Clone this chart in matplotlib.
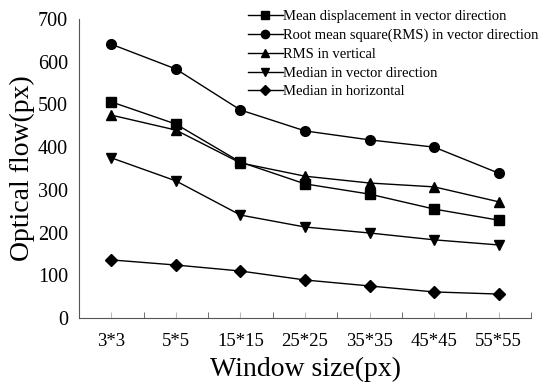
import matplotlib
matplotlib.use("Agg")
import matplotlib.pyplot as plt

windows = ["3*3", "5*5", "15*15", "25*25", "35*35", "45*45", "55*55"]
mean_vec = [506, 454, 365, 314, 290, 255, 229]
rms_vec = [641, 583, 487, 438, 417, 400, 339]
rms_vert = [475, 440, 363, 332, 316, 307, 272]
median_vec = [375, 321, 241, 213, 199, 183, 171]
median_hor = [136, 124, 110, 89, 75, 61, 56]

series = [
    ("Mean displacement in vector direction", mean_vec, "s"),
    ("Root mean square(RMS) in vector direction", rms_vec, "o"),
    ("RMS in vertical", rms_vert, "^"),
    ("Median in vector direction", median_vec, "v"),
    ("Median in horizontal", median_hor, "D"),
]

plt.rcParams["font.family"] = ["Liberation Serif", "DejaVu Serif"]

fig = plt.figure(figsize=(5.5, 3.92), dpi=100)
ax = fig.add_axes([0.1436, 0.1888, 0.822, 0.7627])

x = list(range(len(windows)))
for label, vals, m in series:
    ms = 6 if m == "D" else 7
    ax.plot(x, vals, color="black", linewidth=1, marker=m, markersize=ms, label=label)

ax.set_xlim(-0.5, len(windows) - 0.5)
ax.set_ylim(0, 700)
ax.set_yticks(range(0, 701, 100))
ax.set_xticks(x)
ax.set_xticklabels(windows, fontsize=13.5)
ax.set_xticks([i - 0.5 for i in range(len(windows) + 1)], minor=True)
ax.tick_params(axis="x", which="major", direction="in", length=4, color="#bbbbbb", pad=11)
ax.tick_params(axis="x", which="minor", direction="in", length=4, color="#555555")
ax.tick_params(axis="y", length=0, labelsize=14.5, pad=8)

for s in ["top", "right"]:
    ax.spines[s].set_visible(False)
ax.spines["left"].set_color("#555555")
ax.spines["bottom"].set_color("#555555")

ax.set_xlabel("Window size(px)", fontsize=20, labelpad=5)
ax.set_ylabel("Optical flow(px)", fontsize=20, labelpad=2)

ax.legend(loc="upper right", bbox_to_anchor=(1.03, 1.05), frameon=False,
          fontsize=10.5, handlelength=2.4, handletextpad=0.05, labelspacing=0.38,
          borderaxespad=0, markerscale=0.85)

fig.savefig("out.png", dpi=100)
